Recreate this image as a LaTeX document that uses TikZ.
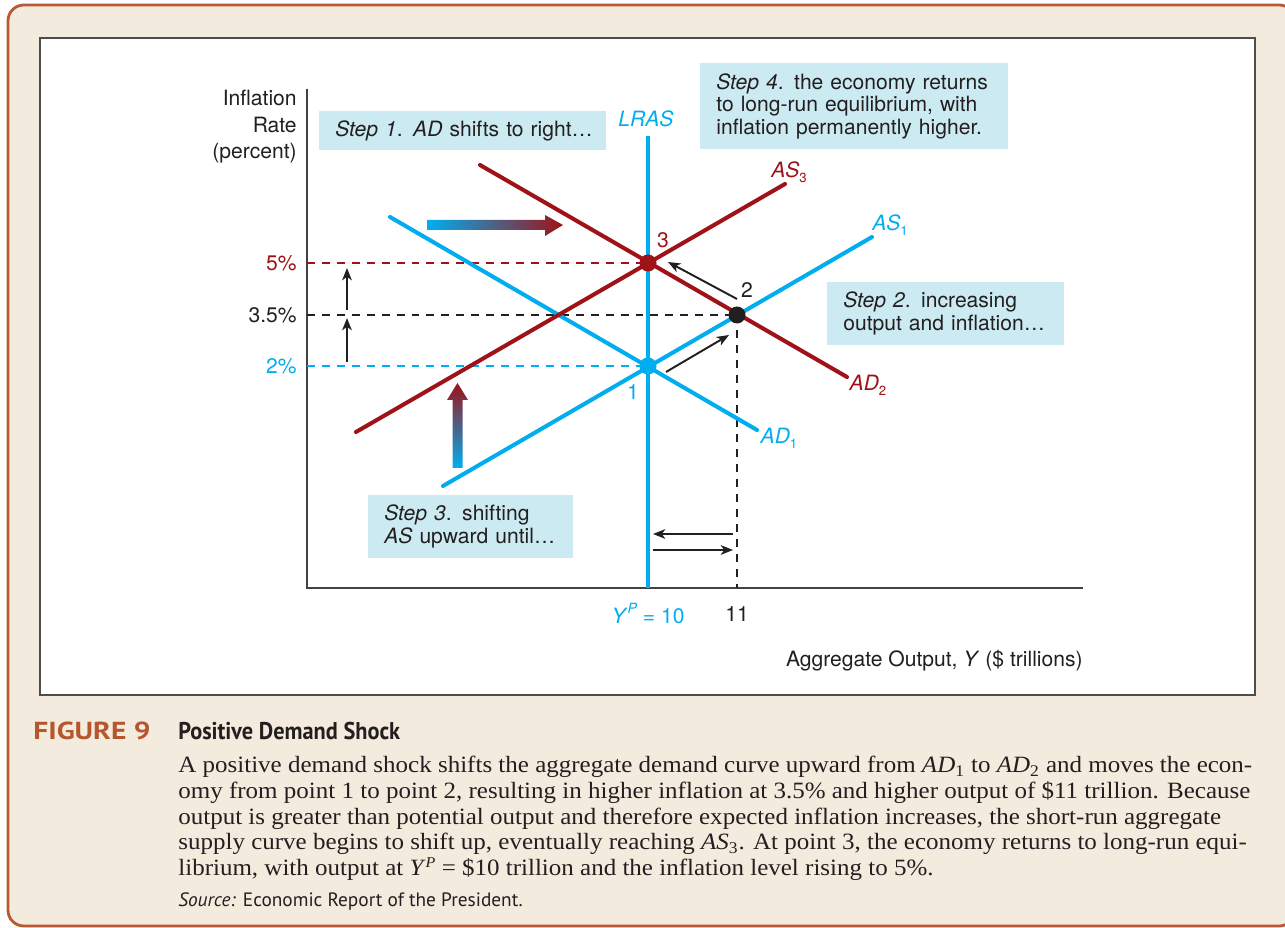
\documentclass[tikz,border=0pt]{standalone}
\usepackage{fontspec}
\setmainfont{Liberation Serif}
\setsansfont{TeX Gyre Heros}
\newfontfamily\capsans{PT Sans}
\newfontfamily\bodyserif[FakeStretch=1.07]{Liberation Serif}
\usetikzlibrary{arrows.meta,positioning}

\definecolor{cyanc}{RGB}{0,174,239}
\definecolor{redc}{RGB}{158,18,24}
\definecolor{boxc}{RGB}{204,234,242}
\definecolor{beige}{RGB}{243,235,221}
\definecolor{brownc}{RGB}{184,88,52}
\definecolor{figc}{RGB}{183,86,46}
\definecolor{inkc}{RGB}{35,31,32}

\newcommand{\lowsub}[1]{\raisebox{-0.45ex}{\upshape\fontsize{7.5}{8}\selectfont #1}}

\begin{document}
\begin{tikzpicture}[x=0.02cm, y=-0.02cm,
  every node/.style={font=\sffamily\fontsize{12}{13}\selectfont, text=inkc}]
  \tikzset{
    curve/.style={line width=2.3pt, line cap=round},
    guide/.style={line width=0.7pt, dash pattern=on 4.5pt off 4pt},
    move/.style={line width=1.1pt, draw=inkc, -{Stealth[length=7pt,width=5.5pt,inset=2pt]}},
    dot/.style={circle, inner sep=0pt, minimum size=0.34cm},
    stepbox/.style={fill=boxc, anchor=north west, inner xsep=0.32cm, inner ysep=0pt, align=left},
    tick/.style={anchor=east, inner sep=0pt},
    curvelabel/.style={font=\sffamily\itshape\fontsize{12}{13}\selectfont},
    captext/.style={anchor=base west, inner sep=0pt}
  }
  \useasboundingbox (0,0) rectangle (1285,928);
  % frame and panel
  \begin{scope}
    \clip (0,0) rectangle (1285,928);
    \draw[fill=beige, draw=brownc, line width=1.6pt, rounded corners=9pt] (8,5) rectangle (1295,926);
  \end{scope}
  \draw[fill=white, draw=inkc!80, line width=0.7pt] (40,38) rectangle (1255,695);

  % axes
  \coordinate (origin) at (307,588);
  \coordinate (ytop) at (307,89);
  \coordinate (xend) at (1083,588);
  \draw[line width=0.8pt, draw=inkc!85] (ytop) -- (origin) -- (xend);

  % equilibria
  \coordinate (e1) at (648,366);
  \coordinate (e2) at (737,315);
  \coordinate (e3) at (648,263);

  % guides
  \node[tick, text=redc] (l5) at (297,263) {5\%};
  \node[tick] (l35) at (297,315) {3.5\%};
  \node[tick, text=cyanc] (l2) at (297,366) {2\%};
  \draw[guide, draw=redc] (origin |- e3) -- (e3);
  \draw[guide, draw=inkc] (origin |- e2) -- (e2);
  \draw[guide, draw=cyanc] (origin |- e1) -- (e1);
  \draw[guide, draw=inkc] (e2) -- (e2 |- origin);

  % curves
  \coordinate (ad1a) at (390,217);  \coordinate (ad1b) at (757,430);
  \coordinate (as1a) at (443,486);  \coordinate (as1b) at (872,237);
  \coordinate (ad2a) at (480,165);  \coordinate (ad2b) at (847,377);
  \coordinate (as3a) at (356,432);  \coordinate (as3b) at (785,184);
  \coordinate (lrtop) at (648,136);
  \draw[curve, cyanc] (ad1a) -- (ad1b);
  \draw[curve, cyanc] (as1a) -- (as1b);
  \draw[curve, cyanc, line cap=butt] (lrtop) -- (lrtop |- origin);
  \draw[curve, redc] (ad2a) -- (ad2b);
  \draw[curve, redc] (as3a) -- (as3b);

  \node[dot, fill=cyanc] (p1) at (e1) {};
  \node[dot, fill=inkc] (p2) at (e2) {};
  \node[dot, fill=redc] (p3) at (e3) {};

  % curve labels
  \node[curvelabel, text=redc] (as3l) at (789,172) {AS\lowsub{3}};
  \node[curvelabel, text=cyanc] (as1l) at (890,225) {AS\lowsub{1}};
  \node[curvelabel, text=redc] (ad2l) at (868,385) {AD\lowsub{2}};
  \node[curvelabel, text=cyanc] (ad1l) at (779,438) {AD\lowsub{1}};
  \node[curvelabel, text=cyanc] (lrasl) at (646,119) {LRAS};
  \node[text=redc] (n3) at (663,240) {3};
  \node (n2) at (747,290) {2};
  \node[text=cyanc] (n1) at (633,392) {1};

  % axis labels
  \node[text=cyanc] (yp) at (648,614) {\textit{Y}\raisebox{0.9ex}{\itshape\fontsize{8}{8}\selectfont P} = 10};
  \node (y11) at (737,614) {11};
  \node[anchor=east, inner sep=0pt] (xlab) at (1083,661) {Aggregate Output, \textit{Y} (\$ trillions)};
  \node[anchor=north east, inner sep=0pt, align=right,
        font=\sffamily\fontsize{12}{15}\selectfont] (ylab) at (297,90) {Inflation\\Rate\\(percent)};

  % movements
  \coordinate (u1a) at (347,362);  \coordinate (u1b) at (347,318);
  \coordinate (u2a) at (347,310);  \coordinate (u2b) at (347,268);
  \coordinate (m12a) at (666,372); \coordinate (m12b) at (729,335);
  \coordinate (m23a) at (737,299); \coordinate (m23b) at (668,262);
  \coordinate (hla) at (733,534);  \coordinate (hlb) at (653,534);
  \coordinate (hra) at (653,550);  \coordinate (hrb) at (733,550);
  \draw[move] (u1a) -- (u1b);
  \draw[move] (u2a) -- (u2b);
  \draw[move] (m12a) -- (m12b);
  \draw[move] (m23a) -- (m23b);
  \draw[move] (hla) -- (hlb);
  \draw[move] (hra) -- (hrb);

  % shift arrows
  \shade[left color=cyanc, right color=redc]
    (427,220) -- (545,220) -- (545,215) -- (563,225) -- (545,236) -- (545,230) -- (427,230) -- cycle;
  \shade[bottom color=cyanc, top color=redc]
    (452.5,468) -- (452.5,400) -- (447,400) -- (457.5,383) -- (468,400) -- (462.5,400) -- (462.5,468) -- cycle;

  % steps
  \node[stepbox, text width=5.1cm, minimum height=0.78cm] (s1) at (319,111)
    {\mbox{\textit{Step 1}. \textit{AD} shifts to right\ldots}};
  \node[stepbox, text width=5.52cm, minimum height=1.72cm] (s4) at (700,63)
    {\textit{Step 4}. the economy returns\\to long-run equilibrium, with\\inflation permanently higher.};
  \node[stepbox, text width=4.1cm, minimum height=1.26cm] (s2) at (827,282)
    {\textit{Step 2}. increasing\\output and inflation\ldots};
  \node[stepbox, text width=3.46cm, minimum height=1.26cm] (s3) at (368,495)
    {\textit{Step 3}. shifting\\\textit{AS} upward until\ldots};

  % caption
  \node[captext, text=figc, font=\capsans\bfseries\fontsize{14}{16}\selectfont] (fig) at (33,740)
    {\scalebox{1.2}[1]{FIGURE 9}};
  \node[captext, font=\capsans\bfseries\fontsize{13.8}{16}\selectfont] (title) at (178,740)
    {\scalebox{0.92}[1]{Positive Demand Shock}};
  \node[anchor=north west, inner sep=0pt, align=left,
        font=\bodyserif\fontsize{13.3}{14.6}\selectfont] (body) at (178,756)
    {A positive demand shock shifts the aggregate demand curve upward from \textit{AD}\textsubscript{1} to \textit{AD}\textsubscript{2} and moves the econ-\\
     omy from point 1 to point 2, resulting in higher inflation at 3.5\% and higher output of \$11 trillion. Because\\
     output is greater than potential output and therefore expected inflation increases, the short-run aggregate\\
     supply curve begins to shift up, eventually reaching \textit{AS}\textsubscript{3}. At point 3, the economy returns to long-run equi-\\
     librium, with output at \textit{Y}\raisebox{0.75ex}{\itshape\fontsize{8.5}{9}\selectfont P} = \$10 trillion and the inflation level rising to 5\%.};
  \node[captext, font=\capsans\fontsize{11}{13}\selectfont] (src) at (178,906)
    {\textit{Source:} Economic Report of the President.};
\end{tikzpicture}
\end{document}
